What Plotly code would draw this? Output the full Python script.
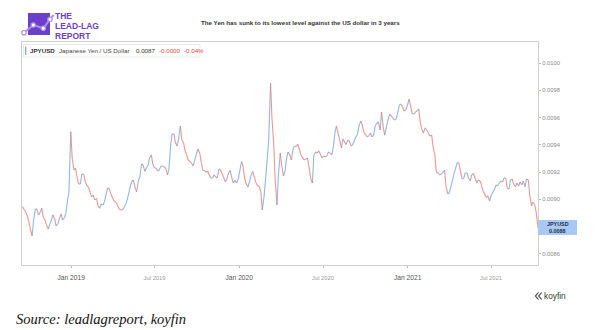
import math
import pandas as pd
import plotly.graph_objects as go

# JPY/USD closes sampled twice a week: Mondays from 2018-09-17 to 2021-10-11,
# and the Thursdays in between
first_monday = "2018-09-17"
monday_close = [
    0.008947, 0.008908, 0.008835, 0.008732, 0.008930, 0.008886, 0.008937, 0.008849,
    0.008783, 0.008849, 0.008857, 0.008820, 0.008893, 0.008864, 0.008996, 0.009496,
    0.009216, 0.009157, 0.009113, 0.009186, 0.009102, 0.009054, 0.009032, 0.009007,
    0.008935, 0.008959, 0.009040, 0.009076, 0.009010, 0.008981, 0.008930, 0.008922,
    0.008963, 0.009047, 0.009135, 0.009084, 0.009142, 0.009260, 0.009205, 0.009252,
    0.009326, 0.009230, 0.009208, 0.009245, 0.009238, 0.009179, 0.009399, 0.009480,
    0.009392, 0.009538, 0.009414, 0.009322, 0.009277, 0.009245, 0.009333, 0.009340,
    0.009212, 0.009201, 0.009179, 0.009157, 0.009164, 0.009223, 0.009186, 0.009128,
    0.009194, 0.009157, 0.009139, 0.009150, 0.009277, 0.009150, 0.009091, 0.009179,
    0.009164, 0.009098, 0.009054, 0.009025, 0.009304, 0.009851, 0.009399, 0.008959,
    0.009340, 0.009172, 0.009304, 0.009326, 0.009370, 0.009388, 0.009362, 0.009304,
    0.009296, 0.009230, 0.009120, 0.009348, 0.009355, 0.009304, 0.009311, 0.009348,
    0.009326, 0.009494, 0.009480, 0.009377, 0.009421, 0.009436, 0.009392, 0.009428,
    0.009480, 0.009575, 0.009487, 0.009458, 0.009487, 0.009472, 0.009560, 0.009509,
    0.009524, 0.009538, 0.009626, 0.009597, 0.009590, 0.009692, 0.009677, 0.009655,
    0.009736, 0.009626, 0.009641, 0.009663, 0.009509, 0.009524, 0.009487, 0.009472,
    0.009326, 0.009194, 0.009186, 0.009216, 0.009040, 0.009098, 0.009194, 0.009271,
    0.009201, 0.009157, 0.009194, 0.009135, 0.009190, 0.009120, 0.009135, 0.009057,
    0.009014, 0.008988, 0.009054, 0.009106, 0.009120, 0.009128, 0.009157, 0.009076,
    0.009150, 0.009091, 0.009098, 0.009106, 0.009093, 0.009142, 0.008952, 0.008959,
    0.008790,
]
thursday_close = [
    0.008930, 0.008886, 0.008783, 0.008842, 0.008930, 0.008901, 0.008871, 0.008813,
    0.008813, 0.008886, 0.008805, 0.008857, 0.008849, 0.008893, 0.009054, 0.009304,
    0.009230, 0.009113, 0.009186, 0.009135, 0.009091, 0.009018, 0.008996, 0.008952,
    0.008967, 0.008981, 0.009084, 0.009040, 0.008989, 0.008959, 0.008923, 0.008937,
    0.008989, 0.009091, 0.009142, 0.009054, 0.009164, 0.009252, 0.009230, 0.009304,
    0.009260, 0.009230, 0.009216, 0.009245, 0.009230, 0.009216, 0.009480, 0.009421,
    0.009436, 0.009443, 0.009362, 0.009289, 0.009267, 0.009282, 0.009370, 0.009282,
    0.009212, 0.009208, 0.009157, 0.009179, 0.009157, 0.009216, 0.009161, 0.009150,
    0.009212, 0.009120, 0.009120, 0.009208, 0.009245, 0.009113, 0.009128, 0.009205,
    0.009124, 0.009098, 0.008923, 0.009142, 0.009436, 0.009597, 0.009142, 0.009179,
    0.009252, 0.009201, 0.009348, 0.009289, 0.009392, 0.009406, 0.009326, 0.009289,
    0.009304, 0.009157, 0.009326, 0.009340, 0.009333, 0.009318, 0.009318, 0.009340,
    0.009377, 0.009538, 0.009436, 0.009443, 0.009403, 0.009428, 0.009399, 0.009458,
    0.009538, 0.009546, 0.009480, 0.009465, 0.009458, 0.009535, 0.009568, 0.009641,
    0.009472, 0.009582, 0.009612, 0.009582, 0.009634, 0.009700, 0.009648, 0.009685,
    0.009685, 0.009626, 0.009648, 0.009568, 0.009487, 0.009509, 0.009465, 0.009384,
    0.009201, 0.009179, 0.009194, 0.009098, 0.009047, 0.009135, 0.009230, 0.009267,
    0.009150, 0.009194, 0.009157, 0.009179, 0.009157, 0.009142, 0.009106, 0.009040,
    0.009025, 0.009025, 0.009069, 0.009098, 0.009135, 0.009157, 0.009084, 0.009142,
    0.009113, 0.009120, 0.009128, 0.009135, 0.009150, 0.009032, 0.008981, 0.008908,
]
x_tick_dates = ["2019-01-01", "2019-07-01", "2020-01-01", "2020-07-01", "2021-01-01", "2021-07-01"]
x_tick_labels = ["Jan 2019", "Jul 2019", "Jan 2020", "Jul 2020", "Jan 2021", "Jul 2021"]
y_tick_values = [0.0086, 0.0090, 0.0092, 0.0094, 0.0096, 0.0098, 0.0100]
symbol = "JPYUSD"
name = "Japanese Yen / US Dollar"
change_text = "-0.0000"
change_pct_text = "-0.04%"
title = "The Yen has sunk to its lowest level against the US dollar in 3 years"
source = "Source: leadlagreport, koyfin"
logo_lines = ["THE", "LEAD-LAG", "REPORT"]

# merge both samples into one chronological series
mondays = pd.date_range(first_monday, periods=len(monday_close), freq="7D")
series = [(d, v) for d, v in zip(mondays, monday_close)]
series += [(d + pd.Timedelta(days=3), v) for d, v in zip(mondays, thursday_close)]
series.sort(key=lambda p: p[0])
dates = [p[0] for p in series]
close = [p[1] for p in series]

# split the path into rising (blue) and falling (red) steps
up_x, up_y, dn_x, dn_y = [], [], [], []
for i in range(1, len(close)):
    seg_x = [dates[i - 1], dates[i], None]
    seg_y = [close[i - 1], close[i], None]
    if close[i] >= close[i - 1]:
        up_x += seg_x; up_y += seg_y
    else:
        dn_x += seg_x; dn_y += seg_y

W, H = 601, 330
L, R, T, B = 22, 538, 42, 265


def px(x):
    return (x - L) / (R - L)


def py(y):
    return (B - y) / (B - T)


fig = go.Figure()
fig.add_trace(go.Scatter(x=up_x, y=up_y, mode="lines",
                         line=dict(color="rgba(115,165,225,0.8)", width=1.1), hoverinfo="skip"))
fig.add_trace(go.Scatter(x=dn_x, y=dn_y, mode="lines",
                         line=dict(color="rgba(232,125,115,0.8)", width=1.1), hoverinfo="skip"))

ticktext = []
for t in x_tick_labels:
    if t.startswith("Jan"):
        ticktext.append(f'<span style="color:#555555;font-size:6.7px">{t}</span>')
    else:
        ticktext.append(f'<span style="color:#9a9a9a;font-size:5.8px">{t}</span>')

fig.update_xaxes(
    type="date", range=["2018-09-16", "2021-10-11"],
    tickvals=x_tick_dates, ticktext=ticktext,
    ticks="outside", ticklen=2, tickcolor="#bbbbbb", ticklabelstandoff=-2,
    showgrid=False, zeroline=False,
    showline=True, mirror=True, linecolor="#cfcfcf", linewidth=1,
)
fig.update_yaxes(
    side="right", range=[0.008519, 0.010154],
    tickvals=y_tick_values, ticktext=[f"{v:.4f}" for v in y_tick_values],
    tickfont=dict(size=5.8, color="#888888"),
    ticks="outside", ticklen=2, tickcolor="#bbbbbb",
    showgrid=False, zeroline=False,
    showline=True, mirror=True, linecolor="#cfcfcf", linewidth=1,
)

last = close[-1]
header_price = math.floor(last * 1e4) / 1e4
purple = "#6b3fc9"
lavender = "#a992e6"

shapes = [
    # header box with accent bar
    dict(type="rect", xref="paper", yref="paper", x0=px(23.5), x1=px(200), y0=py(57), y1=py(44.5),
         line=dict(color="#e4e4e4", width=0.8), fillcolor="white", layer="above"),
    dict(type="rect", xref="paper", yref="paper", x0=px(25), x1=px(26.3), y0=py(55), y1=py(46.5),
         line=dict(width=0), fillcolor="#7ea9e0", layer="above"),
    # last price tag
    dict(type="rect", xref="paper", yref="paper", x0=px(538), x1=px(577), y0=py(235),
         y1=py(220), line=dict(width=0), fillcolor="#a9c8f2", layer="above"),
    # logo block
    dict(type="rect", xref="paper", yref="paper", x0=px(28), x1=px(50), y0=py(35), y1=py(13),
         line=dict(width=0), fillcolor=purple, layer="above"),
    dict(type="path", xref="paper", yref="paper",
         path=f"M {px(24)},{py(32.7)} L {px(33.3)},{py(25)} L {px(43.3)},{py(28.3)} "
              f"L {px(50)},{py(19.3)} L {px(53.5)},{py(15)}",
         line=dict(color=lavender, width=2), layer="above"),
]
for nx, ny in [(24, 32.7), (33.3, 25), (43.3, 28.3), (50, 19.3)]:
    shapes.append(dict(type="circle", xref="paper", yref="paper",
                       x0=px(nx - 2.2), x1=px(nx + 2.2), y0=py(ny + 2.2), y1=py(ny - 2.2),
                       line=dict(color=lavender, width=1.2), fillcolor="white", layer="above"))
# koyfin mark: double chevron
for off in (0, 3.2):
    shapes.append(dict(type="path", xref="paper", yref="paper",
                       path=f"M {px(538.5 + off)},{py(292.5)} L {px(535.5 + off)},{py(296)} "
                            f"L {px(538.5 + off)},{py(299.5)}",
                       line=dict(color="#333333", width=1.1)))

ann = []


def text(x, y, s, size, color="#333333", xanchor="left", bold=False, family="Liberation Sans",
         italic=False):
    if bold:
        s = f"<b>{s}</b>"
    if italic:
        s = f"<i>{s}</i>"
    ann.append(dict(x=px(x), y=py(y), xref="paper", yref="paper", text=s, showarrow=False,
                    xanchor=xanchor, yanchor="middle", borderpad=0,
                    font=dict(size=size, color=color, family=family)))


text(300, 23, title, 6.2, "#333333", xanchor="center", bold=True)
for i, line in enumerate(logo_lines):
    text(53.5, 16.3 + 9.6 * i, line, 8.5, purple, bold=True)

text(29, 50.8, symbol, 6.2, "#333333", bold=True)
text(57.5, 50.8, name, 6.2, "#444444")
text(134.5, 50.8, f"{header_price:.4f}", 6.2, "#333333")
text(157.5, 50.8, change_text, 6.2, "#e0473f")
text(183, 50.8, change_pct_text, 6.2, "#e0473f")

text(557.5, 224.3, symbol, 5.4, "#1e2d50", xanchor="center", bold=True)
text(557.5, 230.8, f"{last:.4f}", 5.4, "#1e2d50", xanchor="center", bold=True)

text(543, 296, "koyfin", 8.3, "#333333")
text(15, 318.5, source, 14.5, "#111111", family="Liberation Serif", italic=True)

fig.update_layout(
    width=W, height=H,
    margin=dict(l=L, r=W - R, t=T, b=H - B),
    paper_bgcolor="white", plot_bgcolor="white",
    showlegend=False,
    font=dict(family="Liberation Sans"),
    shapes=shapes, annotations=ann,
)

fig.write_html("out.html", config={"displayModeBar": False})
